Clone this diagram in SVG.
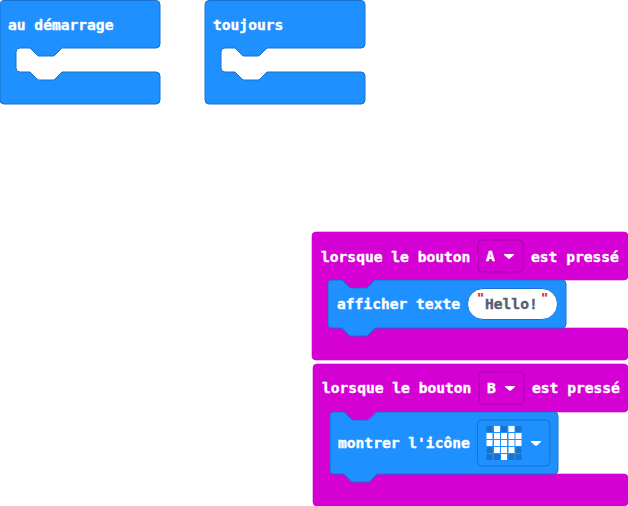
<svg xmlns="http://www.w3.org/2000/svg" width="628" height="506" viewBox="0 0 628 506">
<style>
text{font-family:"DejaVu Sans Mono","Liberation Mono",monospace;font-weight:bold;font-size:14.6px;fill:#fff;stroke:#fff;stroke-width:.4px}
.hello{fill:#575e75;stroke:#575e75}
.q{fill:#c22;stroke:#c22;stroke-width:.2px;font-size:12px;font-weight:bold}
.blue{fill:#1e90ff;stroke:#1873cc;stroke-width:1}
.mag2{fill:#d400d4;stroke:#c000c0;stroke-width:.6}
.dd{fill:#d400d4;stroke:#aa00aa;stroke-width:1}
.arr{fill:#fff;stroke:#fff;stroke-width:1.2;stroke-linejoin:round}
.on{fill:#fff}.off{fill:#1873cc}
</style>
<g id="au-demarrage">
<path class="blue" d="M4 .5H156a4 4 0 0 1 4 4V44a4 4 0 0 1-4 4H62l-7 7a3 3 0 0 1-2 1H39a3 3 0 0 1-2-1l-7-7H20a4 4 0 0 0-4 4V68a4 4 0 0 0 4 4H30l7 7a3 3 0 0 0 2 1H53a3 3 0 0 0 2-1l7-7H156a4 4 0 0 1 4 4V100a4 4 0 0 1-4 4H4a4 4 0 0 1-4-4V4.500a4 4 0 0 1 4-4z"/>
<text x="8" y="30">au démarrage</text>
</g>
<g id="toujours">
<path class="blue" d="M209 .5H361a4 4 0 0 1 4 4V44a4 4 0 0 1-4 4H267l-7 7a3 3 0 0 1-2 1H244a3 3 0 0 1-2-1l-7-7H225a4 4 0 0 0-4 4V68a4 4 0 0 0 4 4H235l7 7a3 3 0 0 0 2 1H258a3 3 0 0 0 2-1l7-7H361a4 4 0 0 1 4 4V100a4 4 0 0 1-4 4H209a4 4 0 0 1-4-4V4.500a4 4 0 0 1 4-4z"/>
<text x="213" y="30">toujours</text>
</g>
<g id="bouton-a">
<path class="mag2" d="M316 232H624a4 4 0 0 1 4 4V276a4 4 0 0 1-4 4H375l-7 7a3 3 0 0 1-2 1H351a3 3 0 0 1-2-1l-7-7H332a4 4 0 0 0-4 4V324a4 4 0 0 0 4 4H624a4 4 0 0 1 4 4V356a4 4 0 0 1-4 4H316a4 4 0 0 1-4-4V236a4 4 0 0 1 4-4z"/>
<rect class="dd" x="478" y="240" width="45" height="32" rx="4"/>
<text x="321" y="262">lorsque le bouton</text>
<text x="486" y="261">A</text>
<path class="arr" d="M504.500 254.500h9l-4 3.500a.8.8 0 0 1-1 0z"/>
<text x="531" y="262">est pressé</text>
</g>
<g id="afficher-texte">
<path class="blue" d="M332 280H342l7 7a3 3 0 0 0 2 1H366a3 3 0 0 0 2-1l7-7H562a4 4 0 0 1 4 4V324a4 4 0 0 1-4 4H375l-7 7a3 3 0 0 1-2 1H351a3 3 0 0 1-2-1l-7-7H332a4 4 0 0 1-4-4V284a4 4 0 0 1 4-4z"/>
<text x="337" y="309">afficher texte</text>
<rect x="467.500" y="288.500" width="90" height="31" rx="15.500" fill="#fff" stroke="#1873cc"/>
<text class="hello" x="485" y="309">Hello!</text>
<text class="q" x="477" y="302">"</text>
<text class="q" x="541" y="302">"</text>
</g>
<g id="bouton-b">
<path class="mag2" d="M317 364H624a4 4 0 0 1 4 4V408a4 4 0 0 1-4 4H376l-7 7a3 3 0 0 1-2 1H353a3 3 0 0 1-2-1l-7-7H334a4 4 0 0 0-4 4V470a4 4 0 0 0 4 4H624a4 4 0 0 1 4 4V502a4 4 0 0 1-4 4H317a4 4 0 0 1-4-4V368a4 4 0 0 1 4-4z"/>
<rect class="dd" x="479" y="372" width="45" height="32" rx="4"/>
<text x="322" y="393">lorsque le bouton</text>
<text x="487" y="393">B</text>
<path class="arr" d="M505.500 386.500h9l-4 3.500a.8.8 0 0 1-1 0z"/>
<text x="532" y="393">est pressé</text>
</g>
<g id="montrer-icone">
<path class="blue" d="M334 412H344l7 7a3 3 0 0 0 2 1H368a3 3 0 0 0 2-1l7-7H554a4 4 0 0 1 4 4V470a4 4 0 0 1-4 4H377l-7 7a3 3 0 0 1-2 1H353a3 3 0 0 1-2-1l-7-7H334a4 4 0 0 1-4-4V416a4 4 0 0 1 4-4z"/>
<text x="338" y="448">montrer l'icône</text>
<rect x="477.500" y="420" width="72.500" height="46" rx="4" fill="#1e90ff" stroke="#1873cc"/>
<g id="heart">
<rect class="off" x="486.500" y="426" width="6" height="6"/><rect class="on" x="494" y="426" width="6" height="6"/><rect class="off" x="501" y="426" width="6" height="6"/><rect class="on" x="508.500" y="426" width="6" height="6"/><rect class="off" x="515.500" y="426" width="6" height="6"/>
<rect class="on" x="486.500" y="433" width="6" height="6"/><rect class="on" x="494" y="433" width="6" height="6"/><rect class="on" x="501" y="433" width="6" height="6"/><rect class="on" x="508.500" y="433" width="6" height="6"/><rect class="on" x="515.500" y="433" width="6" height="6"/>
<rect class="on" x="486.500" y="440" width="6" height="6"/><rect class="on" x="494" y="440" width="6" height="6"/><rect class="on" x="501" y="440" width="6" height="6"/><rect class="on" x="508.500" y="440" width="6" height="6"/><rect class="on" x="515.500" y="440" width="6" height="6"/>
<rect class="off" x="486.500" y="447" width="6" height="6"/><rect class="on" x="494" y="447" width="6" height="6"/><rect class="on" x="501" y="447" width="6" height="6"/><rect class="on" x="508.500" y="447" width="6" height="6"/><rect class="off" x="515.500" y="447" width="6" height="6"/>
<rect class="off" x="486.500" y="454" width="6" height="6"/><rect class="off" x="494" y="454" width="6" height="6"/><rect class="on" x="501" y="454" width="6" height="6"/><rect class="off" x="508.500" y="454" width="6" height="6"/><rect class="off" x="515.500" y="454" width="6" height="6"/>
</g>
<path class="arr" d="M531.500 441.500h9l-4 3.500a.8.8 0 0 1-1 0z"/>
</g>
</svg>
